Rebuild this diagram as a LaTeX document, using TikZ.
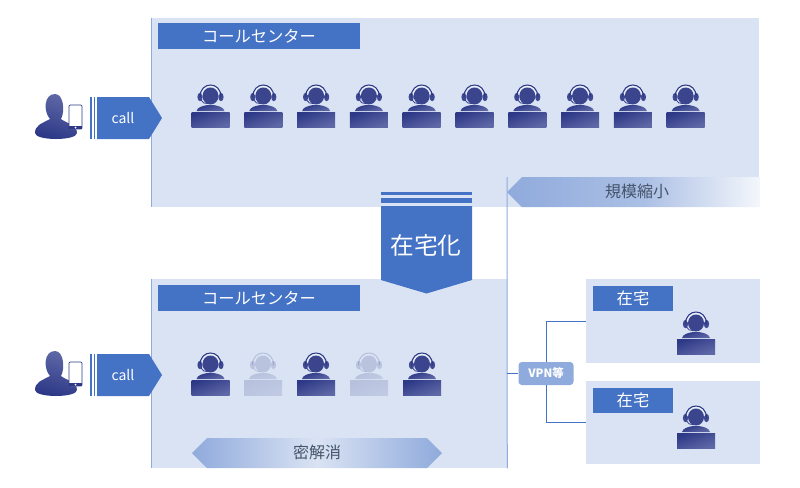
\documentclass[tikz,border=0pt]{standalone}
\usepackage{fontspec}
\setmainfont{Noto Sans CJK JP}
\usetikzlibrary{positioning}
\definecolor{barblue}{HTML}{4472C4}
\definecolor{panelblue}{HTML}{DAE3F3}
\definecolor{lineblue}{HTML}{8FAADC}
\definecolor{agentdark}{HTML}{2D3987}
\definecolor{agentlight}{HTML}{5F68A6}
\definecolor{slate}{HTML}{44546A}
\pgfdeclarehorizontalshading{shrinkfade}{100bp}{color(0bp)=(lineblue);color(25bp)=(lineblue);color(52bp)=(lineblue!75!white);color(75bp)=(panelblue!30!white);color(100bp)=(panelblue!30!white)}
\tikzset{
  agentfill/.style={left color=agentdark,right color=agentlight,shading angle=20},
  pics/agent/.style={code={
    \path[agentfill] (-19,0) rectangle (19,15);
    \path[agentfill] (-14,-1) .. controls (-13,-5) and (-8,-6) .. (-3,-7) -- (3,-7) .. controls (8,-6) and (13,-5) .. (14,-1) -- cycle;
    \path[fill=agentdark!94!white] (0,-16) ellipse [x radius=8,y radius=8.5];
    \path[fill=agentdark!92!white] (-10.5,-15) ellipse [x radius=2.6,y radius=4.2];
    \path[fill=agentdark!92!white] (10.5,-15) ellipse [x radius=2.6,y radius=4.2];
    \draw[white!70!panelblue,line width=.4pt] (-8.6,-17) .. controls (-8.6,-28.5) and (8.6,-28.5) .. (8.6,-17);
    \draw[agentdark,line width=.8pt] (-10.5,-15) .. controls (-10.5,-31) and (10.5,-31) .. (10.5,-15);
    \draw[agentdark,line width=.6pt] (-9.5,-12) .. controls (-8,-9) and (-6,-8.5) .. (-3,-8.5);
  }},
  pics/caller/.style={code={
    \path[top color=agentlight,bottom color=agentdark,shading angle=-15] (-21,15) .. controls (-21,7) and (-14,5.5) .. (-6,1) .. controls (-12.5,-6) and (-12.5,-24) .. (-1,-24) .. controls (8,-24) and (9,-6) .. (5,1) .. controls (10,5) and (21,7) .. (21,15) .. controls (21,19) and (10,21) .. (0,21) .. controls (-10,21) and (-21,19) .. (-21,15) -- cycle;
    \draw[agentdark,fill=white,line width=.6pt,rounded corners=.8pt] (13,-13) rectangle (26,11);
    \path[fill=agentdark] (13,8) rectangle (26,11);
    \path[fill=white] (19.5,9.5) circle (1);
  }}
}
\begin{document}
\begin{tikzpicture}[x=.75pt,y=-.75pt]
\tikzstyle{panel}=[fill=panelblue,inner sep=0pt]
\tikzstyle{title}=[fill=barblue,text=white,inner sep=0pt,font=\fontsize{12.2}{14}\selectfont]
\tikzstyle{band}=[text=slate,inner sep=0pt,font=\fontsize{12}{14}\selectfont]
\tikzstyle{guide}=[draw=lineblue,line width=.75pt]
\useasboundingbox (0,0) rectangle (800,487);
\node[panel,minimum width=607*.75pt,minimum height=189*.75pt] (top) at (455.5,112.5) {};
\node[panel,minimum width=355*.75pt,minimum height=189*.75pt] (bottom) at (329.5,373.5) {};
\node[panel,minimum width=174*.75pt,minimum height=84*.75pt] (homea) at (673,321) {};
\node[panel,minimum width=174*.75pt,minimum height=83*.75pt] (homeb) at (673,422.5) {};
\draw[guide] (top.north west) -- (top.south west);
\draw[guide] (bottom.north west) -- (bottom.south west);
\coordinate (splittop) at (507,177);
\draw[guide] (splittop) -- (bottom.south east);
\node[title,minimum width=202*.75pt,minimum height=26*.75pt] (centera) at (259,36) {コールセンター};
\node[title,minimum width=202*.75pt,minimum height=26*.75pt] (centerb) at (259,298) {コールセンター};
\node[title,minimum width=80*.75pt,minimum height=25*.75pt] (labela) at (633,298.5) {在宅};
\node[title,minimum width=80*.75pt,minimum height=25*.75pt] (labelb) at (633,400.5) {在宅};
\foreach \i in {0,...,9} \pic at (210.5+52.8*\i,112) {agent};
\foreach \x in {210.5,316,422} \pic at (\x,380) {agent};
\begin{scope}[opacity=.2]
\foreach \x in {263,369} \pic at (\x,380) {agent};
\end{scope}
\pic at (696,339) {agent};
\pic at (696,433) {agent};
\pic at (56,118) {caller};
\pic at (56,375) {caller};
\foreach \y in {97,354} {
  \fill[barblue] (90,\y) rectangle (92.3,\y+42);
  \fill[barblue] (93.5,\y) rectangle (95.2,\y+42);
  \fill[barblue] (97,\y) -- (149,\y) -- (162,\y+21) -- (149,\y+42) -- (97,\y+42) -- cycle;
}
\node[text=white,inner sep=0pt,font=\fontsize{10.5}{12}\selectfont] (calla) at (123,118) {call};
\node[text=white,inner sep=0pt,font=\fontsize{10.5}{12}\selectfont] (callb) at (123,375) {call};
\fill[barblue] (381,192) rectangle (472,195);
\fill[barblue] (381,197.7) rectangle (472,203.3);
\fill[barblue] (381,206) -- (472,206) -- (472,280) -- (426.5,293.5) -- (381,280) -- cycle;
\node[text=white,inner sep=0pt,font=\fontsize{17.8}{20}\selectfont] (remote) at (426,245) {在宅化};
\path[shading=shrinkfade] (507,192) -- (522,177) -- (760,177) -- (760,207) -- (522,207) -- cycle;
\node[band] (shrink) at (637,191) {規模縮小};
\path[left color=lineblue,right color=lineblue,middle color=panelblue] (192,453) -- (207,438) -- (427,438) -- (442,453) -- (427,468) -- (207,468) -- cycle;
\node[band] (sparse) at (317,452) {密解消};
\node[fill=lineblue,text=white,rounded corners=2.5pt,inner sep=0pt,minimum width=55*.75pt,minimum height=23*.75pt,font=\fontsize{8.6}{10}\bfseries] (vpn) at (546,373.5) {VPN等};
\coordinate (tap) at (507,373.5);
\draw[barblue,line width=.75pt] (tap) -- (vpn);
\draw[barblue,line width=.75pt] (vpn) |- (homea);
\draw[barblue,line width=.75pt] (vpn) |- (homeb);
\end{tikzpicture}
\end{document}
